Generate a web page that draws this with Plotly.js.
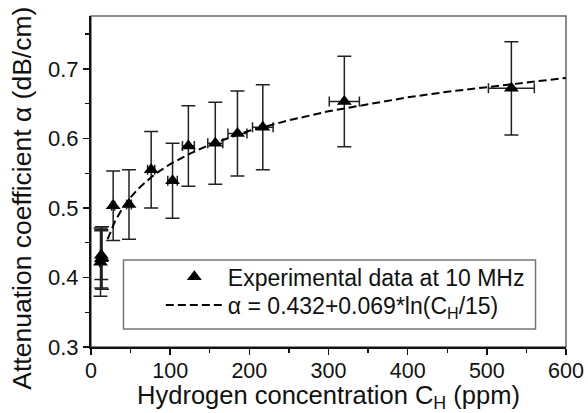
<!DOCTYPE html>
<html>
<head>
<meta charset="utf-8">
<script src="https://cdn.plot.ly/plotly-3.0.1.min.js"></script>
<style>html,body{margin:0;padding:0;background:#fff;}#chart{width:588px;height:413px;}</style>
</head>
<body>
<div id="chart"></div>
<script>
const concPpm   = [12, 13, 13, 14, 28, 48, 76, 103, 123, 157, 185, 217, 320, 531];
const alphaDb   = [0.422, 0.427, 0.432, 0.428, 0.503, 0.505, 0.555, 0.539, 0.589, 0.593, 0.607, 0.616, 0.653, 0.672];
const alphaErr  = [0.049, 0.042, 0.035, 0.045, 0.050, 0.050, 0.055, 0.054, 0.058, 0.059, 0.061, 0.061, 0.065, 0.067];
const concErr   = [1, 1, 1, 1, 2, 3, 4.5, 6, 7.5, 9.5, 12, 13, 19, 29];

// Dashed fitted curve
const fitX = [21, 25, 30, 40, 50, 60, 80, 100, 125, 150, 200, 250, 300, 350, 400, 450, 500, 550, 600];
const fitY = [0.455, 0.467, 0.480, 0.500, 0.515, 0.528, 0.548, 0.563, 0.578, 0.591, 0.611, 0.626, 0.639, 0.649, 0.659, 0.667, 0.674, 0.681, 0.687];

const xTickVals = [0, 100, 200, 300, 400, 500, 600];
const yTickVals = [0.3, 0.4, 0.5, 0.6, 0.7];
const yTickText = ['0.3', '0.4', '0.5', '0.6', '0.7'];

const legendData = 'Experimental data at 10 MHz';
const legendFit  = '\u03b1 = 0.432+0.069*ln(C<sub>H</sub>/15)';

const FONT = 'Liberation Sans, Arial, Helvetica, sans-serif';

const traces = [
  {
    x: concPpm, y: alphaDb, type: 'scatter', mode: 'markers',
    name: legendData, legend: 'legend',
    marker: {symbol: 'triangle-up', size: 13, color: '#000'},
    error_y: {type: 'data', array: alphaErr, visible: true, color: '#222', thickness: 1.5, width: 7},
    error_x: {type: 'data', array: concErr, visible: true, color: '#222', thickness: 1.5, width: 5}
  },
  {
    x: fitX, y: fitY, type: 'scatter', mode: 'lines',
    name: legendFit, legend: 'legend2',
    line: {color: '#000', width: 2, dash: '8px,4px'}
  }
];

const legendCommon = {
  xanchor: 'left', yanchor: 'middle',
  bgcolor: 'rgba(0,0,0,0)', borderwidth: 0,
  font: {family: FONT, size: 23, color: '#111'},
  itemwidth: 57
};

const layout = {
  width: 588, height: 413,
  margin: {l: 91, r: 22, t: 16, b: 66},
  paper_bgcolor: '#fff', plot_bgcolor: '#fff',
  font: {family: FONT, color: '#111', size: 22},
  showlegend: true,
  legend:  Object.assign({x: 0.147, y: 0.212}, legendCommon),
  legend2: Object.assign({x: 0.147, y: 0.127}, legendCommon),
  xaxis: {
    range: [0, 600], tickvals: xTickVals, ticks: 'outside', ticklen: 6, tickwidth: 1.5, tickcolor: '#111',
    showline: true, linecolor: '#111', linewidth: 2, showgrid: false, zeroline: false,
    tickfont: {family: FONT, size: 21.5, color: '#111'}, ticklabelstandoff: -3,
    minor: {dtick: 50, ticks: 'outside', ticklen: 4, tickwidth: 1.2, tickcolor: '#111', showgrid: false},
    title: {text: 'Hydrogen concentration C<sub>H</sub> (ppm)', font: {family: FONT, size: 25.5, color: '#111'}, standoff: 9}
  },
  yaxis: {
    range: [0.3, 0.776], tickvals: yTickVals, ticktext: yTickText, ticks: 'outside', ticklen: 6, tickwidth: 1.5, tickcolor: '#111',
    showline: true, linecolor: '#111', linewidth: 2, showgrid: false, zeroline: false,
    tickfont: {family: FONT, size: 22, color: '#111'},
    minor: {dtick: 0.05, ticks: 'outside', ticklen: 4, tickwidth: 1.2, tickcolor: '#111', showgrid: false}
  },
  annotations: [
    {text: 'Attenuation coefficient \u03b1 (dB/cm)', xref: 'paper', yref: 'paper', x: -0.146, y: 0.45,
     xanchor: 'center', yanchor: 'middle', textangle: -90, showarrow: false,
     font: {family: FONT, size: 26.5, color: '#111'}}
  ],
  shapes: [
    {type: 'rect', xref: 'paper', yref: 'paper', x0: 0, x1: 1, y0: 0, y1: 1, line: {color: '#666', width: 1.5}, layer: 'below'},
    {type: 'rect', xref: 'paper', yref: 'paper', x0: 0.0684, x1: 0.9358, y0: 0.0544, y1: 0.2628, line: {color: '#777', width: 1.5}, layer: 'below'}
  ]
};

Plotly.newPlot('chart', traces, layout, {displayModeBar: false, staticPlot: true});
</script>
</body>
</html>
